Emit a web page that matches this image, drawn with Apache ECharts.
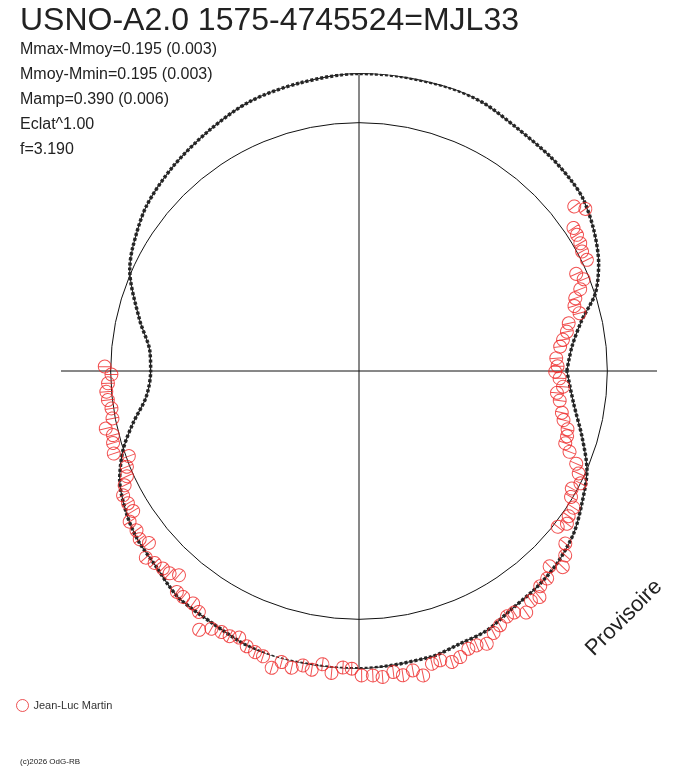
<!DOCTYPE html>
<html>
<head>
<meta charset="utf-8">
<script src="https://cdn.jsdelivr.net/npm/echarts@6/dist/echarts.min.js"></script>
<style>
html,body{margin:0;padding:0;background:#fff;}
#chart{width:688px;height:768px;}
</style>
</head>
<body>
<div id="chart"></div>
<script>
// Fitted light curve (polar: angle in degrees, radius relative to mean = 1)
const fitAngle = [0,6.5,12.9,18.2,24.2,31,37.3,41.7,48.3,57,65.1,72.2,82.1,90,101.6,112,121.7,132.3,142.3,151.2,156.2,166.9,174.3,180,186.9,193,198.5,204.5,211.5,217.4,224,228.5,232,240,247.7,254.6,264.4,270,284,290.4,296.2,302.3,309.5,315.8,322.9,329.3,336.5,343.6,351.4,360];
const fitRadius = [0.837,0.863,0.921,1.002,1.058,1.103,1.137,1.148,1.157,1.167,1.190,1.198,1.198,1.198,1.184,1.171,1.142,1.113,1.083,1.039,1.009,0.907,0.847,0.839,0.863,0.934,1.002,1.059,1.098,1.121,1.135,1.155,1.168,1.175,1.194,1.202,1.200,1.199,1.187,1.171,1.165,1.140,1.127,1.112,1.084,1.044,1.001,0.936,0.874,0.837];

// Observations (Jean-Luc Martin)
const obsAngle = [37.4,35.6,33.7,32.0,30.0,28.2,26.0,24.1,22.2,20.3,18.6,16.8,14.7,12.8,10.7,8.7,6.9,3.7,1.4,359.8,
357.9,355.6,353.7,351.6,348.4,346.5,344.4,342.6,340.7,339.0,336.9,335.0,333.1,331.1,329.3,327.5,325.3,323.7,321.9,320.1,318.2,316.1,314.3,312.2,310.1,
308.6,306.8,304.7,302.7,301.1,299.0,297.2,295.1,293.2,291.5,289.5,287.7,285.7,284.0,281.9,280.2,
278.2,276.5,274.4,272.6,270.5,268.6,266.9,264.8,262.9,261.0,259.2,257.2,255.1,253.6,251.4,249.7,247.8,245.8,244.0,242.2,240.2,238.3,236.4,234.5,232.1,
230.5,228.6,226.9,225.2,223.2,221.2,219.3,217.5,215.6,213.3,211.8,209.8,207.8,206.0,204.4,202.4,200.3,198.6,196.3,
194.6,192.8,190.9,188.6,186.6,184.7,182.8,180.8,179.0];
const obsRadius = [1.091,1.121,1.038,1.035,1.029,1.019,1.021,0.958,0.977,0.950,0.919,0.906,0.918,0.866,0.852,0.831,0.816,0.796,0.800,0.790,
0.808,0.824,0.802,0.817,0.834,0.847,0.872,0.878,0.880,0.908,0.951,0.976,1.000,0.979,0.993,1.024,1.027,1.039,1.017,1.083,1.114,1.139,1.099,1.128,1.133,
1.165,1.156,1.183,1.156,1.154,1.171,1.186,1.213,1.202,1.202,1.222,1.230,1.210,1.215,1.253,1.225,
1.238,1.220,1.236,1.227,1.226,1.199,1.196,1.221,1.190,1.218,1.207,1.225,1.213,1.246,1.212,1.207,1.197,1.177,1.188,1.188,1.196,1.225,1.165,1.150,1.153,
1.153,1.096,1.116,1.121,1.129,1.141,1.093,1.113,1.102,1.105,1.070,1.072,1.074,1.050,1.026,1.011,0.988,1.042,1.032,
1.024,1.046,1.011,1.008,1.018,1.021,1.012,0.997,1.024];

const titleText = 'USNO-A2.0 1575-4745524=MJL33';
const infoLines = ['Mmax-Mmoy=0.195 (0.003)','Mmoy-Mmin=0.195 (0.003)','Mamp=0.390 (0.006)','Eclat^1.00','f=3.190'];
const observer = 'Jean-Luc Martin';

const fitData = fitAngle.map((a, i) => [fitRadius[i], a]);
const obsData = obsAngle.map((a, i) => [obsRadius[i], a]);

const chart = echarts.init(document.getElementById('chart'));
const FONT = 'Liberation Sans, Arial, sans-serif';
const graphics = [
  {type:'text', x:20, y:21, style:{text:titleText, font:'32px ' + FONT, fill:'#222', textVerticalAlign:'middle'}}
];
infoLines.forEach((t, i) => {
  graphics.push({type:'text', x:20, y:50 + i * 25, style:{text:t, font:'16px ' + FONT, fill:'#222', textVerticalAlign:'middle'}});
});
graphics.push({type:'text', x:624, y:618, rotation:Math.PI/4, style:{text:'Provisoire', font:'22px ' + FONT, fill:'#222', textAlign:'center', textVerticalAlign:'middle'}});
graphics.push({type:'text', x:20, y:762, style:{text:'(c)2026 OdG-RB', font:'8px ' + FONT, fill:'#222', textVerticalAlign:'middle'}});

chart.setOption({
  animation:false,
  backgroundColor:'#fff',
  graphic:graphics,
  legend:{
    left:11, top:694, orient:'vertical', itemWidth:12, itemHeight:12, itemGap:4,
    textStyle:{fontFamily:FONT, fontSize:11, color:'#333'},
    data:[{name:observer, icon:'circle', itemStyle:{color:'rgba(0,0,0,0)', borderColor:'#e8282b', borderWidth:1}}]
  },
  polar:{center:[359, 371], radius:298},
  angleAxis:{
    type:'value', min:0, max:360, interval:90, startAngle:0, clockwise:false,
    axisLine:{show:false}, axisTick:{show:false}, axisLabel:{show:false},
    splitLine:{show:true, lineStyle:{color:'#111', width:1}}
  },
  radiusAxis:{
    type:'value', min:0, max:1.2, interval:1,
    axisLine:{show:false}, axisTick:{show:false}, axisLabel:{show:false},
    splitLine:{show:true, lineStyle:{color:['#111','#111','rgba(0,0,0,0)'], width:1}}
  },
  series:[
    {
      type:'line', coordinateSystem:'polar', data:fitData, smooth:0.3, showSymbol:false, clip:false,
      lineStyle:{color:'#2a2a2a', width:3.5, type:[3,2]}, silent:true, z:2
    },
    {
      type:'line', coordinateSystem:'polar', data:fitData, smooth:0.3, showSymbol:false, clip:false,
      lineStyle:{color:'#222', width:1.2}, silent:true, z:3
    },
    {
      name:observer, type:'scatter', coordinateSystem:'polar', data:obsData, clip:false,
      symbol:'path://M0,10A10,10,0,1,1,20,10A10,10,0,1,1,0,10ZM0,10L20,10',
      symbolSize:13, symbolKeepAspect:true,
      symbolRotate:function (v) { return v[1]; },
      itemStyle:{color:'rgba(0,0,0,0)', borderColor:'#ee2626', borderWidth:1},
      z:4
    }
  ]
});
</script>
</body>
</html>
